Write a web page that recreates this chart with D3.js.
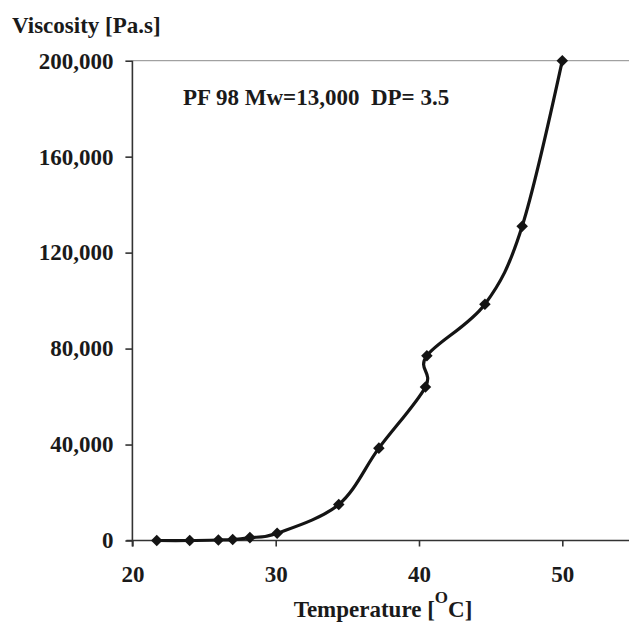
<!DOCTYPE html>
<html>
<head>
<meta charset="utf-8">
<script src="https://cdn.jsdelivr.net/npm/d3@7"></script>
<style>
body { margin:0; background:white; }
text { font-family:"Liberation Serif","Times New Roman",serif; font-weight:bold; fill:#1a1a1a; }
</style>
</head>
<body>
<svg id="chart"></svg>
<script>
// temperature [C] and viscosity [Pa.s]
var temps = [21.7, 24.0, 26.0, 27.0, 28.2, 30.1, 34.4, 37.2, 40.45, 40.55, 44.6, 47.2, 50.0]
var viscs = [0, 0, 200, 400, 1200, 3000, 15000, 38500, 64000, 77000, 98500, 131000, 200000]
var xTicks = [20, 30, 40, 50]
var yTicks = [0, 40000, 80000, 120000, 160000, 200000]

var screen = {width:629, height:628}
var margins = {left:132.4, right:0, top:60.7, bottom:87.5}
var fontSize = 23

var graph = {
    width:screen.width - margins.left - margins.right,
    height:screen.height - margins.top - margins.bottom
}

var svg = d3.select("#chart")
    .attr("width", screen.width)
    .attr("height", screen.height)

var points = temps.map(function(t, i) { return {T:t, V:viscs[i]} })

var xScale = d3.scaleLinear()
    .domain([20, 20 + graph.width / 14.33])
    .range([margins.left, screen.width])

var yScale = d3.scaleLinear()
    .domain([0, 200000])
    .range([margins.top + graph.height, margins.top])

var fmt = d3.format(",")

var drawAxes = function()
{
    var y0 = yScale(0)

    // top gridline
    svg.append("line")
        .attr("x1", margins.left).attr("x2", screen.width)
        .attr("y1", yScale(200000)).attr("y2", yScale(200000))
        .attr("stroke", "#8c8c8c").attr("stroke-width", 1)

    var xAxis = d3.axisBottom(xScale)
        .tickValues(xTicks)
        .tickSize(6)
        .tickPadding(19)
        .tickFormat(d3.format("d"))

    var gx = svg.append("g")
        .attr("transform", "translate(0," + y0 + ")")
        .call(xAxis)
    gx.select(".domain").attr("d", "M" + (margins.left - 6) + ",0H" + screen.width)

    var yAxis = d3.axisLeft(yScale)
        .tickValues(yTicks)
        .tickSize(7)
        .tickPadding(12)
        .tickFormat(fmt)

    var gy = svg.append("g")
        .attr("transform", "translate(" + margins.left + ",0)")
        .call(yAxis)
    gy.select(".domain").attr("d", "M0," + yScale(200000) + "V" + (y0 + 6))

    svg.selectAll(".domain, .tick line")
        .attr("stroke", "#333")
        .attr("stroke-width", 1.6)

    svg.selectAll(".tick text")
        .attr("font-size", fontSize)
        .attr("font-family", null)
        .attr("fill", "#1a1a1a")
}

var drawLine = function()
{
    var line = d3.line()
        .x(function(d) { return xScale(d.T) })
        .y(function(d) { return yScale(d.V) })
        .curve(d3.curveCardinal.tension(0))

    svg.append("path")
        .datum(points)
        .attr("fill", "none")
        .attr("stroke", "#141414")
        .attr("stroke-width", 3.2)
        .attr("d", line)

    svg.selectAll(".pt")
        .data(points)
        .enter()
        .append("path")
        .attr("class", "pt")
        .attr("d", d3.symbol().type(d3.symbolDiamond2).size(85))
        .attr("transform", function(d) {
            return "translate(" + xScale(d.T) + "," + yScale(d.V) + ")"
        })
        .attr("fill", "#141414")
}

var drawLabels = function()
{
    svg.append("text")
        .attr("x", 12).attr("y", 33)
        .attr("font-size", fontSize)
        .text("Viscosity [Pa.s]")

    svg.append("text")
        .attr("x", 183).attr("y", 105)
        .attr("font-size", fontSize)
        .attr("xml:space", "preserve")
        .text("PF 98 Mw=13,000  DP= 3.5")

    var xt = svg.append("text")
        .attr("x", 383).attr("y", 617)
        .attr("text-anchor", "middle")
        .attr("font-size", fontSize)
    xt.append("tspan").text("Temperature [")
    xt.append("tspan").attr("dy", -14).attr("font-size", 17).text("O")
    xt.append("tspan").attr("dy", 14).text("C]")
}

drawAxes()
drawLine()
drawLabels()
</script>
</body>
</html>
